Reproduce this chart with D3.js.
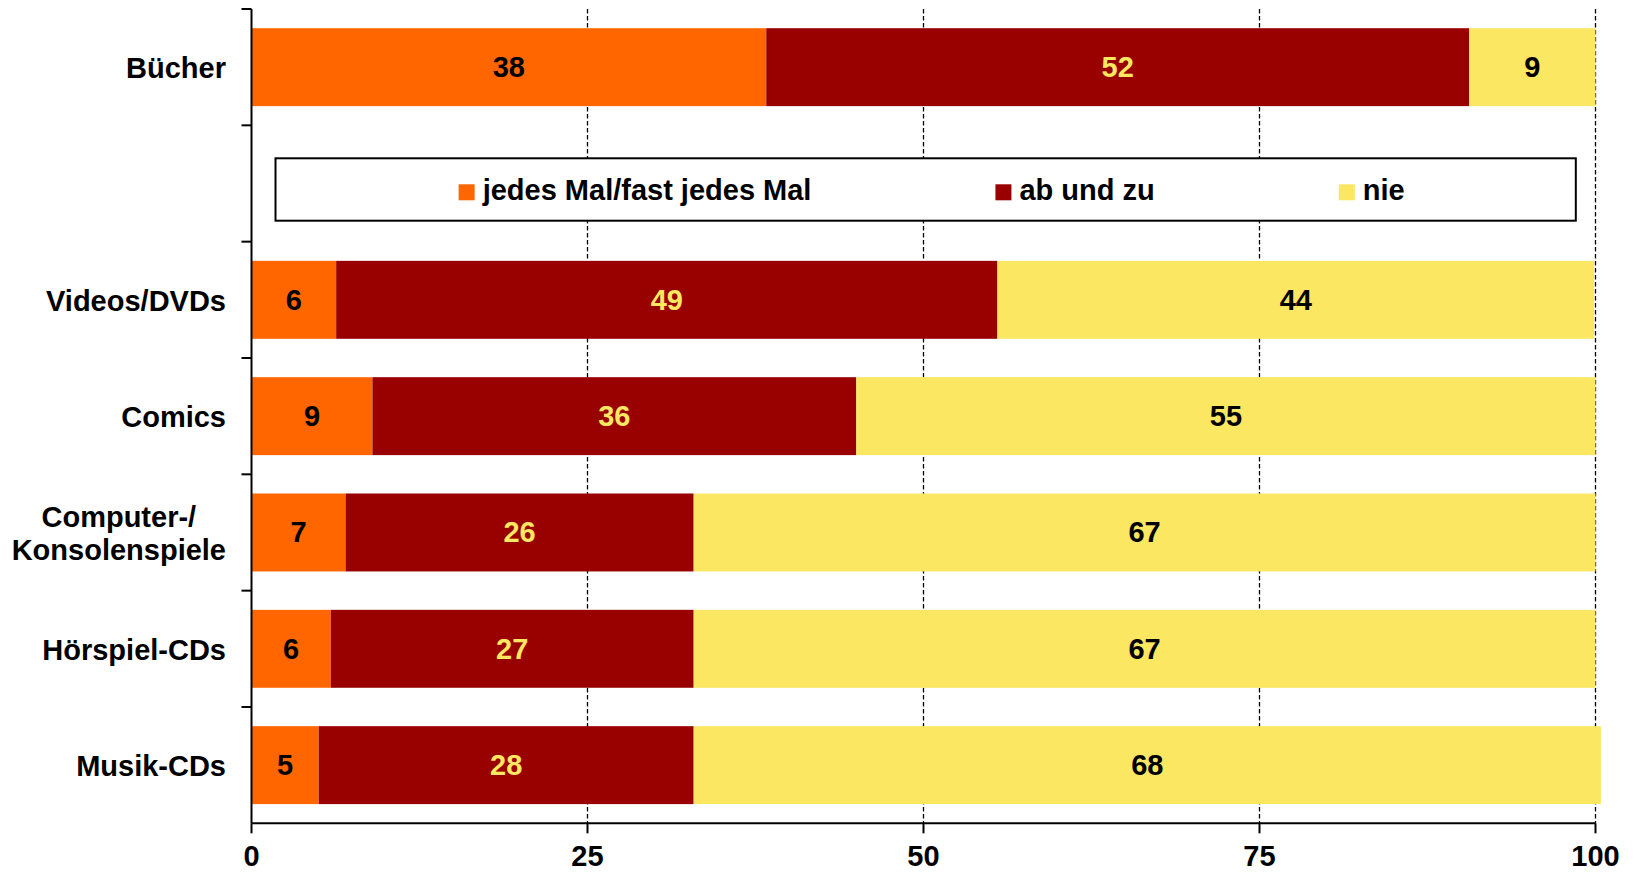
<!DOCTYPE html>
<html>
<head>
<meta charset="utf-8">
<script src="https://cdn.jsdelivr.net/npm/d3@7"></script>
<style>
  body { margin: 0; background: #fff; }
  text { font-family: "Liberation Sans", Arial, sans-serif; font-weight: bold; }
</style>
</head>
<body>
<div id="chart"></div>
<script>
var categories = ["Bücher", "Videos/DVDs", "Comics", "Computer-/\nKonsolenspiele", "Hörspiel-CDs", "Musik-CDs"]
var seriesNames = ["jedes Mal/fast jedes Mal", "ab und zu", "nie"]
var jedesMal = [38.3, 6.3, 9.0, 7.0, 5.9, 5.0]
var abUndZu = [52.3, 49.2, 36.0, 25.9, 27.0, 27.9]
var nie = [9.4, 44.4, 55.0, 67.1, 67.1, 67.5]
var xTicks = [0, 25, 50, 75, 100]

var colors = ["#ff6600", "#990000", "#fbe762"]
var labelColors = ["#000", "#fbe762", "#000"]

var width = 1636, height = 873
var fontSize = 29

//build rows for the stack
var rows = categories.map(function(c, i){
	return {cat: c, s0: jedesMal[i], s1: abUndZu[i], s2: nie[i]}
})
var keys = ["s0", "s1", "s2"]

//legend gets its own empty slot after the first row
var legendSlot = "__legend__"
var domain = [categories[0], legendSlot].concat(categories.slice(1))

var svg = d3.select("#chart").append("svg")
	.attr("width", width)
	.attr("height", height)

var x = d3.scaleLinear().domain([0, 100]).range([251.5, 1595.5])
var y = d3.scaleBand().domain(domain).range([9, 823.3])
	.paddingInner(0.33).paddingOuter(0.165)

//dashed grid lines
svg.append("g").selectAll("line")
	.data(xTicks.filter(function(d){ return d > 0 }))
	.enter().append("line")
	.attr("x1", function(d){ return x(d) })
	.attr("x2", function(d){ return x(d) })
	.attr("y1", y.range()[0])
	.attr("y2", y.range()[1])
	.style("stroke", "#000")
	.style("stroke-width", 1.3)
	.style("stroke-dasharray", "4.5,2.5")

//bars
var stacked = d3.stack().keys(keys)(rows)

var layer = svg.append("g").selectAll("g")
	.data(stacked)
	.enter().append("g")
	.style("fill", function(d, i){ return colors[i] })

layer.selectAll("rect")
	.data(function(d){ return d })
	.enter().append("rect")
	.attr("x", function(d){ return x(d[0]) })
	.attr("y", function(d){ return y(d.data.cat) })
	.attr("width", function(d){ return x(d[1]) - x(d[0]) })
	.attr("height", y.bandwidth())

//value labels, formatted from the raw value not the stack difference
var fmt = d3.format(".0f")
layer.selectAll("text")
	.data(function(d, i){ return d.map(function(p){ return {p: p, i: i} }) })
	.enter().append("text")
	.attr("x", function(d){ return (x(d.p[0]) + x(d.p[1])) / 2 })
	.attr("y", function(d){ return y(d.p.data.cat) + y.bandwidth() / 2 + 10 })
	.attr("text-anchor", "middle")
	.style("font-size", fontSize + "px")
	.style("fill", function(d){ return labelColors[d.i] })
	.text(function(d){ return fmt(d.p.data[keys[d.i]]) })

//y axis line and ticks at band edges
var yAxis = svg.append("g")
yAxis.append("line")
	.attr("x1", x(0)).attr("x2", x(0))
	.attr("y1", y.range()[0]).attr("y2", y.range()[1])
	.style("stroke", "#000").style("stroke-width", 2)

yAxis.selectAll(".tick")
	.data(d3.range(domain.length))
	.enter().append("line")
	.attr("x1", x(0) - 10).attr("x2", x(0))
	.attr("y1", function(k){ return y.range()[0] + k * y.step() })
	.attr("y2", function(k){ return y.range()[0] + k * y.step() })
	.style("stroke", "#000").style("stroke-width", 2)

//category labels, multi line ones centred in a right aligned block
var labelRight = 226
categories.forEach(function(c){
	var lines = c.split("\n")
	var t = svg.append("text")
		.style("font-size", fontSize + "px")
		.attr("text-anchor", "middle")
	var cy = y(c) + y.bandwidth() / 2
	var lineH = 33
	var top = cy - (lines.length - 1) * lineH / 2 + 11
	var spans = lines.map(function(l, j){
		return t.append("tspan").attr("y", top + j * lineH).text(l)
	})
	var maxW = d3.max(spans, function(s){ return s.node().getComputedTextLength() })
	spans.forEach(function(s){ s.attr("x", labelRight - maxW / 2) })
})

//x axis
var xAxis = svg.append("g")
xAxis.append("line")
	.attr("x1", x(0)).attr("x2", x(100))
	.attr("y1", y.range()[1]).attr("y2", y.range()[1])
	.style("stroke", "#000").style("stroke-width", 2)

xAxis.selectAll(".tick")
	.data(xTicks)
	.enter().append("line")
	.attr("x1", function(d){ return x(d) })
	.attr("x2", function(d){ return x(d) })
	.attr("y1", y.range()[1])
	.attr("y2", y.range()[1] + 10)
	.style("stroke", "#000").style("stroke-width", 2)

xAxis.selectAll("text")
	.data(xTicks)
	.enter().append("text")
	.attr("x", function(d){ return x(d) })
	.attr("y", 866)
	.attr("text-anchor", "middle")
	.style("font-size", fontSize + "px")
	.text(function(d){ return d })

//legend box in the empty slot
var legTop = 158.3, legBottom = 220.7
var legend = svg.append("g")
legend.append("rect")
	.attr("x", 275.5)
	.attr("y", legTop)
	.attr("width", 1575.8 - 275.5)
	.attr("height", legBottom - legTop)
	.style("fill", "#fff")
	.style("stroke", "#000")
	.style("stroke-width", 2)

var item = legend.selectAll(".item")
	.data(seriesNames)
	.enter().append("g")

item.append("rect")
	.attr("width", 16).attr("height", 16)
	.attr("y", 184.3)
	.style("fill", function(d, i){ return colors[i] })

item.append("text")
	.attr("x", 24)
	.attr("y", 200)
	.style("font-size", fontSize + "px")
	.text(function(d){ return d })

//lay out items centred with a fixed gap
var gap = 184
var widths = []
item.each(function(){ widths.push(this.getBBox().width) })
var total = d3.sum(widths) + gap * (widths.length - 1)
var startX = (275.5 + 1575.8) / 2 - total / 2 + 6
var cx = startX
item.attr("transform", function(d, i){
	var t = "translate(" + cx + ",0)"
	cx += widths[i] + gap
	return t
})
</script>
</body>
</html>
